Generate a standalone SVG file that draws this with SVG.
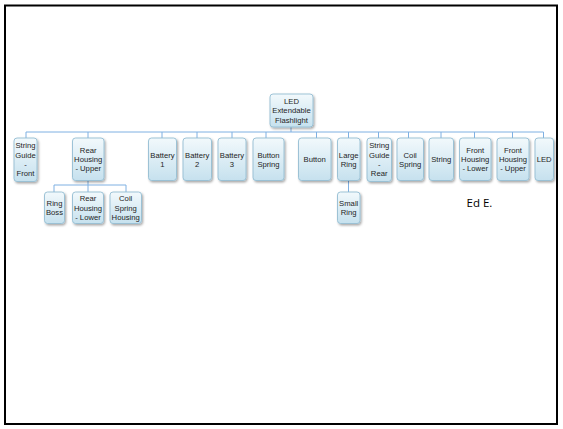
<svg xmlns="http://www.w3.org/2000/svg" width="563" height="429" viewBox="0 0 563 429">
<defs>
<linearGradient id="g" x1="0" y1="0" x2="0" y2="1">
<stop offset="0" stop-color="#f2f9fc"/>
<stop offset="1" stop-color="#c6e1ee"/>
</linearGradient>
<filter id="sh" x="-20%" y="-20%" width="150%" height="150%">
<feDropShadow dx="1.2" dy="1.5" stdDeviation="0.8" flood-color="#000" flood-opacity="0.35"/>
</filter>
</defs>
<style>
.b{fill:url(#g);stroke:#94bdd2;stroke-width:0.9;filter:url(#sh)}
.t{font-family:"Liberation Sans",Arial,sans-serif;font-size:7.7px;fill:#1e1e1e;text-anchor:middle}
.c{stroke:#7fb0e2;stroke-width:1;fill:none}
</style>
<rect x="0" y="0" width="563" height="429" fill="#fff"/>
<rect x="5" y="5.5" width="552" height="418.5" fill="none" stroke="#000" stroke-width="2"/>
<g id="connectors" class="c">
<path d="M291 127V132M26 132H543.5"/>
<path d="M26 132V138M88 132V138M162 132V138M197 132V138M232 132V138M266 132V138M316.5 132V138M348.5 132V138M378.5 132V138M408.5 132V138M441 132V138M474.5 132V138M512.5 132V138M543.5 132V138"/>
<path d="M88 180V185M54 185H126M54 185V192M88 185V192M126 185V192"/>
<path d="M348.5 180V192"/>
</g>
<g id="root"><rect class="b" x="270" y="94" width="43" height="33" rx="3"/><text class="t" x="291.5" y="104">LED</text><text class="t" x="291.5" y="113.3">Extendable</text><text class="t" x="291.5" y="122.6">Flashlight</text></g>
<g id="n-sgf"><rect class="b" x="14" y="138" width="23" height="43.5" rx="3"/><text class="t" x="25.5" y="148.3">String</text><text class="t" x="25.5" y="157.6">Guide</text><text class="t" x="25.5" y="167">-</text><text class="t" x="25.5" y="176.3">Front</text></g>
<g id="n-rhu"><rect class="b" x="72.5" y="138" width="31.5" height="42.5" rx="3"/><text class="t" x="88.2" y="152.5">Rear</text><text class="t" x="88.2" y="161.8">Housing</text><text class="t" x="88.2" y="171.1">- Upper</text></g>
<g id="n-b1"><rect class="b" x="148.5" y="138" width="28" height="42.5" rx="3"/><text class="t" x="162.5" y="157.8">Battery</text><text class="t" x="162.5" y="167.1">1</text></g>
<g id="n-b2"><rect class="b" x="183" y="138" width="28.5" height="42.5" rx="3"/><text class="t" x="197.2" y="157.8">Battery</text><text class="t" x="197.2" y="167.1">2</text></g>
<g id="n-b3"><rect class="b" x="218" y="138" width="28" height="42.5" rx="3"/><text class="t" x="232" y="157.8">Battery</text><text class="t" x="232" y="167.1">3</text></g>
<g id="n-bs"><rect class="b" x="253" y="138" width="31" height="42.5" rx="3"/><text class="t" x="268.5" y="157.8">Button</text><text class="t" x="268.5" y="167.1">Spring</text></g>
<g id="n-btn"><rect class="b" x="298.5" y="138" width="32.5" height="42.5" rx="3"/><text class="t" x="314.7" y="162.4">Button</text></g>
<g id="n-lr"><rect class="b" x="337.5" y="138" width="22.5" height="42.5" rx="3"/><text class="t" x="348.7" y="157.8">Large</text><text class="t" x="348.7" y="167.1">Ring</text></g>
<g id="n-sgr"><rect class="b" x="367" y="138" width="24.5" height="43.5" rx="3"/><text class="t" x="379.2" y="148.3">String</text><text class="t" x="379.2" y="157.6">Guide</text><text class="t" x="379.2" y="167">-</text><text class="t" x="379.2" y="176.3">Rear</text></g>
<g id="n-cs"><rect class="b" x="397" y="138" width="26.5" height="42.5" rx="3"/><text class="t" x="410.2" y="157.8">Coil</text><text class="t" x="410.2" y="167.1">Spring</text></g>
<g id="n-str"><rect class="b" x="429" y="138" width="24.5" height="42.5" rx="3"/><text class="t" x="441.2" y="162.4">String</text></g>
<g id="n-fhl"><rect class="b" x="459.5" y="138" width="31.5" height="42.5" rx="3"/><text class="t" x="475.2" y="152.5">Front</text><text class="t" x="475.2" y="161.8">Housing</text><text class="t" x="475.2" y="171.1">- Lower</text></g>
<g id="n-fhu"><rect class="b" x="497" y="138" width="32" height="42.5" rx="3"/><text class="t" x="513" y="152.5">Front</text><text class="t" x="513" y="161.8">Housing</text><text class="t" x="513" y="171.1">- Upper</text></g>
<g id="n-led"><rect class="b" x="535" y="138" width="18.5" height="42.5" rx="3"/><text class="t" x="544.2" y="162.4">LED</text></g>
<g id="n-rb"><rect class="b" x="44.5" y="192" width="20" height="31.5" rx="3"/><text class="t" x="54.5" y="205.8">Ring</text><text class="t" x="54.5" y="215.1">Boss</text></g>
<g id="n-rhl"><rect class="b" x="72.5" y="192" width="31" height="31.5" rx="3"/><text class="t" x="88" y="201.2">Rear</text><text class="t" x="88" y="210.5">Housing</text><text class="t" x="88" y="219.8">- Lower</text></g>
<g id="n-csh"><rect class="b" x="110" y="192" width="31.5" height="31.5" rx="3"/><text class="t" x="125.7" y="201.2">Coil</text><text class="t" x="125.7" y="210.5">Spring</text><text class="t" x="125.7" y="219.8">Housing</text></g>
<g id="n-sr"><rect class="b" x="337.5" y="192" width="22.5" height="31.5" rx="3"/><text class="t" x="348.7" y="205.8">Small</text><text class="t" x="348.7" y="215.1">Ring</text></g>
<text x="466.5" y="207" font-family="'Open Sans','Liberation Sans',sans-serif" font-size="11.5" fill="#000">Ed E.</text>
</svg>
